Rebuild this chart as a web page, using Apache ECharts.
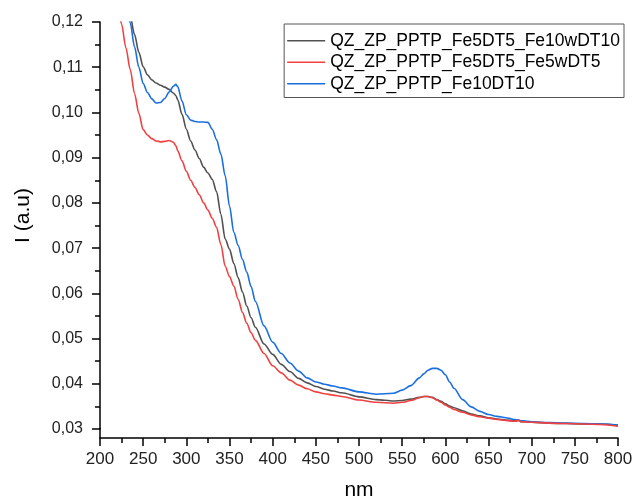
<!DOCTYPE html>
<html><head><meta charset="utf-8">
<script src="https://cdn.jsdelivr.net/npm/echarts@6/dist/echarts.min.js"></script>
<style>html,body{margin:0;padding:0;background:#fff}#c{width:633px;height:501px}</style>
</head><body><div id="c"></div>
<script>
const seriesNames = ['QZ_ZP_PPTP_Fe5DT5_Fe10wDT10', 'QZ_ZP_PPTP_Fe5DT5_Fe5wDT5', 'QZ_ZP_PPTP_Fe10DT10'];
const wavelength = [215,220,225,230,235,240,245,250,255,260,265,270,275,280,285,288,290,295,300,305,310,315,320,325,330,335,340,345,350,355,360,365,370,375,380,390,400,410,420,430,440,450,460,470,480,500,520,540,550,560,570,575,580,585,590,595,600,605,610,620,630,640,650,660,670,680,685,688,690,700,720,740,760,780,800];
const black = [0.142,0.136,0.131,0.1255,0.1213,0.1172,0.1133,0.1101,0.1083,0.1072,0.1065,0.1060,0.1056,0.1051,0.1043,0.1037,0.1028,0.0996,0.0963,0.0937,0.0917,0.0898,0.0879,0.0866,0.0852,0.0825,0.0775,0.0720,0.0698,0.0666,0.0635,0.0603,0.0572,0.0546,0.0525,0.0488,0.0465,0.0443,0.0427,0.0412,0.0402,0.0394,0.0388,0.0384,0.0380,0.0371,0.0365,0.0362,0.0363,0.0366,0.0370,0.0372,0.0372,0.0370,0.0365,0.0361,0.0356,0.0351,0.0347,0.0340,0.0333,0.0329,0.0325,0.0322,0.0320,0.0318,0.0319,0.0316,0.0316,0.0315,0.0313,0.0312,0.0311,0.0311,0.0308];
const red = [0.131,0.125,0.1195,0.1143,0.1095,0.1042,0.0998,0.0962,0.0950,0.0942,0.0937,0.0935,0.0936,0.0938,0.0934,0.0926,0.0915,0.0893,0.0870,0.0850,0.0834,0.0818,0.0800,0.0784,0.0766,0.0746,0.0708,0.0660,0.0637,0.0616,0.0587,0.0558,0.0534,0.0513,0.0496,0.0467,0.0440,0.0424,0.0408,0.0397,0.0389,0.0382,0.0378,0.0375,0.0372,0.0364,0.0359,0.0357,0.0359,0.0363,0.0369,0.0372,0.0372,0.0369,0.0364,0.0359,0.0353,0.0348,0.0343,0.0337,0.0331,0.0327,0.0324,0.0321,0.0319,0.0317,0.0319,0.0316,0.0316,0.0315,0.0313,0.0312,0.0311,0.0310,0.0306];
const blue = [0.144,0.137,0.131,0.1250,0.1198,0.1145,0.1100,0.1064,0.1044,0.1030,0.1021,0.1022,0.1031,0.1045,0.1058,0.1062,0.1057,0.1025,0.0995,0.0983,0.0980,0.0979,0.0979,0.0978,0.0963,0.0940,0.0908,0.0860,0.0793,0.0735,0.0706,0.0675,0.0647,0.0615,0.0582,0.0528,0.0492,0.0467,0.0446,0.0428,0.0413,0.0404,0.0399,0.0395,0.0391,0.0382,0.0377,0.0379,0.0386,0.0396,0.0413,0.0422,0.0430,0.0434,0.0434,0.0430,0.0420,0.0404,0.0390,0.0365,0.0349,0.0339,0.0332,0.0328,0.0325,0.0321,0.0320,0.0318,0.0318,0.0316,0.0314,0.0313,0.0312,0.0311,0.0309];
const colors = ['#515151', '#F14040', '#1A6FDF'];
const xTicks = {min: 200, max: 800, interval: 50};
const yTicks = {min: 0.03, max: 0.12, interval: 0.01};

const chart = echarts.init(document.getElementById('c'), null, {renderer: 'canvas'});
const pairs = arr => wavelength.map((w, i) => [w, arr[i]]);
const font = 'Liberation Sans, Arial, sans-serif';
const axisCommon = {
  axisLine: {show: true, lineStyle: {color: '#000', width: 1.5}},
  axisTick: {show: true, inside: false, length: 8, lineStyle: {color: '#000', width: 1.5}},
  minorTick: {show: true, splitNumber: 2, length: 5, lineStyle: {color: '#000', width: 1.5}},
  splitLine: {show: false}
};
chart.setOption({
  animation: false,
  color: colors,
  grid: {left: 100, right: 15, top: 22, bottom: 72, outerBoundsMode: 'none', containLabel: false},
  legend: {
    orient: 'vertical', right: 9, top: 24,
    padding: [6, 4, 3, 3], itemGap: 0,
    borderColor: '#555', borderWidth: 1,
    icon: 'rect', itemWidth: 38, itemHeight: 1.5,
    textStyle: {fontFamily: font, fontSize: 17.5, color: '#000', lineHeight: 21.5}
  },
  xAxis: Object.assign({}, axisCommon, {
    type: 'value', min: xTicks.min, max: xTicks.max, interval: xTicks.interval,
    offset: 9, name: 'nm', nameLocation: 'middle', nameGap: 42,
    nameTextStyle: {fontFamily: font, fontSize: 21, color: '#000'},
    axisLabel: {fontFamily: font, fontSize: 17, color: '#222', margin: 13}
  }),
  yAxis: Object.assign({}, axisCommon, {
    type: 'value', min: yTicks.min, max: yTicks.max, interval: yTicks.interval,
    name: 'I (a.u)', nameLocation: 'middle', nameGap: 66,
    nameTextStyle: {fontFamily: font, fontSize: 21, color: '#000', padding: [0, 0, 0, 20]},
    axisLabel: {fontFamily: font, fontSize: 16, color: '#222', margin: 17,
      formatter: v => v.toFixed(2).replace('.', ',')}
  }),
  graphic: [
    {type: 'line', shape: {x1: 100, y1: 428, x2: 100, y2: 438}, style: {stroke: '#000', lineWidth: 1.5}}
  ],
  series: [black, red, blue].map((d, i) => ({
    name: seriesNames[i], type: 'line', data: pairs(d), showSymbol: false, symbol: 'none',
    smooth: 0.3, smoothMonotone: 'x', clip: true,
    lineStyle: {width: 1.6, color: colors[i]}, z: i === 1 ? 3 : 2
  }))
});
</script></body></html>
